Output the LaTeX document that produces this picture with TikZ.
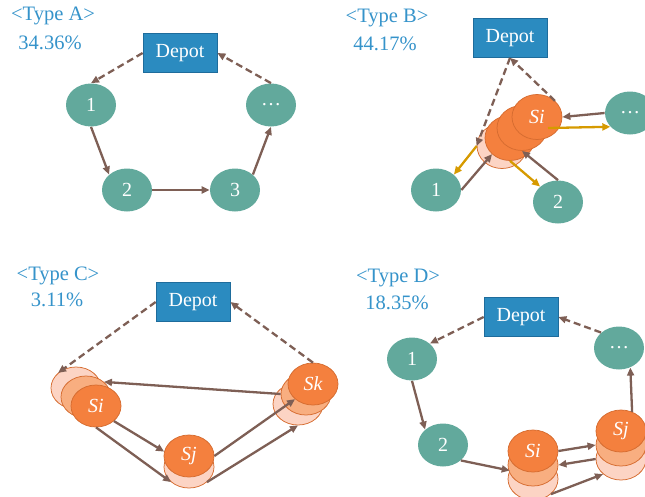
\documentclass[tikz,border=0pt]{standalone}
\usepackage{fontspec}
\setmainfont{Liberation Serif}
\usetikzlibrary{arrows.meta,shapes.geometric,calc}

\definecolor{depotblue}{RGB}{43,139,192}
\definecolor{depotline}{RGB}{30,108,156}
\definecolor{custteal}{RGB}{98,169,156}
\definecolor{labelblue}{RGB}{53,147,202}
\definecolor{routebrown}{RGB}{126,95,85}
\definecolor{routegold}{RGB}{214,154,0}
\definecolor{stopfull}{RGB}{244,128,62}
\definecolor{stopmid}{RGB}{248,174,128}
\definecolor{stoplight}{RGB}{252,212,196}
\definecolor{stopline}{RGB}{214,108,48}

\tikzset{every picture/.style={line width=0.75pt}}
\tikzset{
  depot/.style={draw=depotline,fill=depotblue,text=white,minimum width=74pt,minimum height=39pt,inner sep=0pt,font=\fontsize{20}{22}\selectfont},
  cust/.style={ellipse,fill=custteal,text=white,minimum width=50pt,minimum height=43pt,inner sep=0pt,font=\fontsize{20}{22}\selectfont},
  stopfront/.style={ellipse,draw=stopline,fill=stopfull,text=white,minimum width=50pt,minimum height=42pt,inner sep=0pt,font=\fontsize{20}{22}\selectfont\itshape},
  stophalf/.style={stopfront,fill=stopmid},
  stopback/.style={stopfront,fill=stoplight},
  typelabel/.style={text=labelblue,inner sep=0pt,font=\fontsize{20.5}{23}\selectfont},
  tour/.style={draw=routebrown,line width=2.3pt,-{Triangle[length=8pt,width=7pt]}},
  backtour/.style={tour,dash pattern=on 7pt off 4pt},
  swap/.style={tour,draw=routegold,color=routegold}
}

\begin{document}
\begin{tikzpicture}[x=1pt,y=1pt,yscale=-1,xscale=1]
\useasboundingbox (0,0) rectangle (645,496);

% Type A
\node [typelabel] (labA) at (53,16) {<Type A>};
\node [typelabel] (pctA) at (50,43) {34.36\%};
\node [depot] (dA) at (180,53) {Depot};
\node [cust] (a1) at (91,105) {1};
\node [cust] (a2) at (127,190) {2};
\node [cust] (a3) at (235,190) {3};
\node [cust] (a4) at (271,105) {\dots};
\draw [backtour] (dA.west) -- (a1.north);
\draw [backtour] (a4.north) -- (dA.east);
\draw [tour] (a1.south) -- (a2.north west);
\draw [tour] (a2.east) -- (a3.west);
\draw [tour] (a3.north east) -- (a4.south);

% Type B
\node [typelabel] (labB) at (387,18) {<Type B>};
\node [typelabel] (pctB) at (385,44) {44.17\%};
\node [depot] (dB) at (510,38) {Depot};
\node [cust] (b1) at (436,190) {1};
\node [cust] (b2) at (558,202) {2};
\node [cust] (b4) at (630,113) {\dots};
\node [stopback,minimum height=45pt] (bp) at (502,146) {};
\node [stopfront,minimum height=45pt] (b3) at (510,138) {};
\node [stopfront,minimum height=45pt] (b2o) at (522,128) {};
\node [stopfront,minimum height=45pt] (bS) at (537,117) {Si};
\draw [backtour] (dB.south) -- (bp.west);
\draw [backtour] (bS.north east) -- (dB.south);
\draw [tour] (b4.west) -- (bS.east);
\draw [swap] ($(bS)+(11,11)$) -- (b4.215);
\draw [swap] (bp.west) -- (b1.north east);
\draw [tour] (b1.east) -- (b3.south west);
\draw [swap] (b3.south) -- (b2.north west);
\draw [tour] (b2.north) -- (b2o.south);

% Type C
\node [typelabel] (labC) at (58,276) {<Type C>};
\node [typelabel] (pctC) at (57,300) {3.11\%};
\node [depot] (dC) at (193,302) {Depot};
\node [stopback] (cp) at (76,388) {};
\node [stophalf] (cpe) at (86,397) {};
\node [stopfront] (cSi) at (96,406) {Si};
\node [stopback] (cjp) at (189,467) {};
\node [stopfront] (cSj) at (189,456) {Sj};
\node [stopback] (ckp) at (298,404) {};
\node [stophalf] (ckpe) at (306,394) {};
\node [stopfront] (cSk) at (313,384) {Sk};
\draw [backtour] (dC.west) -- (cp.north west);
\draw [backtour] (cSk.north) -- (dC.east);
\draw [tour] (ckpe.west) -- (cpe.north east);
\draw [tour] (cSi.south east) -- (cSj.170);
\draw [tour] (cSi.south) -- (cjp.south west);
\draw [tour] (cSj.east) -- (cSk.south west);
\draw [tour] (cjp.south east) -- (ckp.south);

% Type D
\node [typelabel] (labD) at (398,278) {<Type D>};
\node [typelabel] (pctD) at (397,303) {18.35\%};
\node [depot] (dD) at (521,317) {Depot};
\node [cust] (d1) at (412,359) {1};
\node [cust] (d2) at (443,445) {2};
\node [cust] (d4) at (619,348) {\dots};
\node [stopback] (dp) at (533,479) {};
\node [stophalf] (dpe) at (533,465) {};
\node [stopfront] (dSi) at (533,451) {Si};
\node [stopback] (djp) at (621,459) {};
\node [stophalf] (djpe) at (621,445) {};
\node [stopfront] (dSj) at (621,431) {Sj};
\draw [backtour] (dD.west) -- (d1.north east);
\draw [backtour] (d4.north west) -- (dD.east);
\draw [tour] (d1.south) -- (d2.north west);
\draw [tour] (d2.south east) -- (dp.160);
\draw [tour] (dSi.east) -- (djpe.west);
\draw [tour] (djp.west) -- (dpe.east);
\draw [tour] (dp.south east) -- (djp.south west);
\draw [tour] (dSj.60) -- (d4.300);

\end{tikzpicture}
\end{document}
